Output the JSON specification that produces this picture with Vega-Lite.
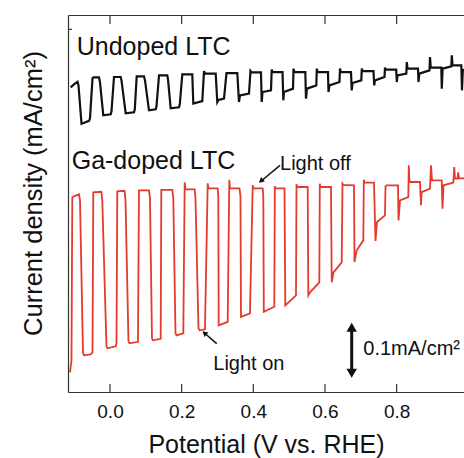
{
  "$schema": "https://vega.github.io/schema/vega-lite/v6.json",
  "width": 396,
  "height": 377,
  "autosize": {"type": "none"},
  "padding": {"left": 68, "top": 15, "right": 0, "bottom": 66},
  "config": {
    "view": {"stroke": null},
    "font": "Liberation Sans",
    "axis": {"grid": false, "domainColor": "#333", "domainWidth": 1.2, "ticks": false, "labelColor": "#111", "titleColor": "#111", "titleFontWeight": "normal", "labelFont": "Liberation Sans", "titleFont": "Liberation Sans"}
  },
  "datasets": {
    "undoped": [
      {"V":-0.1097,"J":0.5374},{"V":-0.1005,"J":0.5427},{"V":-0.0907,"J":0.5471},{"V":-0.0879,"J":0.5409},{"V":-0.0795,"J":0.4730},{"V":-0.0754,"J":0.4739},{"V":-0.0586,"J":0.4783},{"V":-0.0558,"J":0.4827},{"V":-0.0488,"J":0.5533},{"V":-0.0461,"J":0.5550},{"V":-0.0307,"J":0.5550},{"V":-0.0279,"J":0.5462},{"V":-0.0187,"J":0.4880},{"V":0.0020,"J":0.4898},{"V":0.0042,"J":0.4951},{"V":0.0112,"J":0.5556},{"V":0.0299,"J":0.5556},{"V":0.0321,"J":0.5497},{"V":0.0438,"J":0.4915},{"V":0.0670,"J":0.4933},{"V":0.0692,"J":0.4986},{"V":0.0745,"J":0.5568},{"V":0.0949,"J":0.5568},{"V":0.0977,"J":0.5497},{"V":0.1088,"J":0.4968},{"V":0.1275,"J":0.4986},{"V":0.1298,"J":0.5039},{"V":0.1368,"J":0.5586},{"V":0.1599,"J":0.5586},{"V":0.1619,"J":0.5515},{"V":0.1694,"J":0.5004},{"V":0.1926,"J":0.5021},{"V":0.1948,"J":0.5074},{"V":0.2018,"J":0.5603},{"V":0.2297,"J":0.5603},{"V":0.2325,"J":0.5086},{"V":0.2576,"J":0.5132},{"V":0.2624,"J":0.5661},{"V":0.2651,"J":0.5616},{"V":0.2950,"J":0.5616},{"V":0.2995,"J":0.5115},{"V":0.3028,"J":0.5153},{"V":0.3182,"J":0.5175},{"V":0.3251,"J":0.5626},{"V":0.3553,"J":0.5626},{"V":0.3600,"J":0.5115},{"V":0.3628,"J":0.5233},{"V":0.3879,"J":0.5263},{"V":0.3921,"J":0.5661},{"V":0.3949,"J":0.5638},{"V":0.4214,"J":0.5638},{"V":0.4234,"J":0.5115},{"V":0.4256,"J":0.5291},{"V":0.4494,"J":0.5321},{"V":0.4513,"J":0.5686},{"V":0.4535,"J":0.5644},{"V":0.4815,"J":0.5644},{"V":0.4837,"J":0.5145},{"V":0.4856,"J":0.5291},{"V":0.5108,"J":0.5351},{"V":0.5122,"J":0.5704},{"V":0.5144,"J":0.5644},{"V":0.5451,"J":0.5644},{"V":0.5470,"J":0.5175},{"V":0.5498,"J":0.5351},{"V":0.5758,"J":0.5409},{"V":0.5772,"J":0.5704},{"V":0.5791,"J":0.5644},{"V":0.6084,"J":0.5644},{"V":0.6098,"J":0.5291},{"V":0.6126,"J":0.5409},{"V":0.6405,"J":0.5467},{"V":0.6419,"J":0.5704},{"V":0.6442,"J":0.5644},{"V":0.6726,"J":0.5644},{"V":0.6746,"J":0.5321},{"V":0.6768,"J":0.5450},{"V":0.7014,"J":0.5497},{"V":0.7028,"J":0.5704},{"V":0.7047,"J":0.5661},{"V":0.7354,"J":0.5661},{"V":0.7374,"J":0.5409},{"V":0.7396,"J":0.5497},{"V":0.7661,"J":0.5556},{"V":0.7675,"J":0.5721},{"V":0.7698,"J":0.5686},{"V":0.7988,"J":0.5686},{"V":0.8005,"J":0.5467},{"V":0.8024,"J":0.5586},{"V":0.8270,"J":0.5616},{"V":0.8284,"J":0.5820},{"V":0.8303,"J":0.5704},{"V":0.8596,"J":0.5704},{"V":0.8610,"J":0.5467},{"V":0.8633,"J":0.5616},{"V":0.8917,"J":0.5674},{"V":0.8931,"J":0.5908},{"V":0.8953,"J":0.5721},{"V":0.9247,"J":0.5721},{"V":0.9260,"J":0.5351},{"V":0.9283,"J":0.5704},{"V":0.9526,"J":0.5744},{"V":0.9540,"J":0.5938},{"V":0.9559,"J":0.5762},{"V":0.9805,"J":0.5762},{"V":0.9824,"J":0.5321},{"V":0.9847,"J":0.5674},{"V":0.9880,"J":0.5691}
    ],
    "gadoped": [
      {"V":-0.1116,"J":0.0347},{"V":-0.1075,"J":0.0559},{"V":-0.1052,"J":0.3434},{"V":-0.1005,"J":0.3451},{"V":-0.0865,"J":0.3487},{"V":-0.0837,"J":0.3381},{"V":-0.0754,"J":0.0700},{"V":-0.0726,"J":0.0647},{"V":-0.0539,"J":0.0665},{"V":-0.0488,"J":0.0700},{"V":-0.0466,"J":0.3522},{"V":-0.0243,"J":0.3531},{"V":-0.0215,"J":0.3381},{"V":-0.0098,"J":0.0806},{"V":-0.0070,"J":0.0771},{"V":0.0159,"J":0.0806},{"V":0.0181,"J":0.0859},{"V":0.0204,"J":0.3540},{"V":0.0405,"J":0.3549},{"V":0.0433,"J":0.3381},{"V":0.0516,"J":0.0894},{"V":0.0544,"J":0.0859},{"V":0.0781,"J":0.0885},{"V":0.0809,"J":0.3557},{"V":0.1088,"J":0.3557},{"V":0.1116,"J":0.3416},{"V":0.1172,"J":0.0947},{"V":0.1200,"J":0.0912},{"V":0.1415,"J":0.0938},{"V":0.1432,"J":0.3566},{"V":0.1739,"J":0.3566},{"V":0.1767,"J":0.3416},{"V":0.1828,"J":0.1035},{"V":0.1856,"J":0.1000},{"V":0.2046,"J":0.1035},{"V":0.2085,"J":0.3698},{"V":0.2107,"J":0.3575},{"V":0.2364,"J":0.3575},{"V":0.2386,"J":0.3416},{"V":0.2470,"J":0.1123},{"V":0.2498,"J":0.1088},{"V":0.2651,"J":0.1106},{"V":0.2727,"J":0.3681},{"V":0.2749,"J":0.3593},{"V":0.3006,"J":0.3593},{"V":0.3023,"J":0.3451},{"V":0.3034,"J":0.1176},{"V":0.3285,"J":0.1238},{"V":0.3330,"J":0.3743},{"V":0.3349,"J":0.3593},{"V":0.3614,"J":0.3593},{"V":0.3642,"J":0.3451},{"V":0.3656,"J":0.1326},{"V":0.3907,"J":0.1388},{"V":0.3983,"J":0.3646},{"V":0.4005,"J":0.3593},{"V":0.4262,"J":0.3593},{"V":0.4279,"J":0.3451},{"V":0.4293,"J":0.1414},{"V":0.4586,"J":0.1503},{"V":0.4600,"J":0.3628},{"V":0.4619,"J":0.3593},{"V":0.4870,"J":0.3593},{"V":0.4893,"J":0.1529},{"V":0.5191,"J":0.1705},{"V":0.5205,"J":0.3663},{"V":0.5227,"J":0.3619},{"V":0.5518,"J":0.3616},{"V":0.5535,"J":0.1705},{"V":0.5582,"J":0.1758},{"V":0.5842,"J":0.1935},{"V":0.5855,"J":0.3675},{"V":0.5875,"J":0.3619},{"V":0.6168,"J":0.3616},{"V":0.6188,"J":0.1935},{"V":0.6238,"J":0.2111},{"V":0.6467,"J":0.2287},{"V":0.6489,"J":0.3675},{"V":0.6511,"J":0.3654},{"V":0.6810,"J":0.3646},{"V":0.6824,"J":0.2293},{"V":0.6885,"J":0.2499},{"V":0.7070,"J":0.2675},{"V":0.7084,"J":0.3746},{"V":0.7103,"J":0.3693},{"V":0.7368,"J":0.3693},{"V":0.7410,"J":0.2663},{"V":0.7452,"J":0.2998},{"V":0.7675,"J":0.3116},{"V":0.7689,"J":0.3628},{"V":0.7717,"J":0.3646},{"V":0.8038,"J":0.3646},{"V":0.8052,"J":0.3028},{"V":0.8094,"J":0.3381},{"V":0.8326,"J":0.3439},{"V":0.8339,"J":0.3998},{"V":0.8359,"J":0.3704},{"V":0.8652,"J":0.3704},{"V":0.8680,"J":0.3293},{"V":0.8700,"J":0.3527},{"V":0.8931,"J":0.3587},{"V":0.8959,"J":0.3998},{"V":0.8987,"J":0.3734},{"V":0.9258,"J":0.3734},{"V":0.9280,"J":0.3235},{"V":0.9308,"J":0.3646},{"V":0.9582,"J":0.3693},{"V":0.9607,"J":0.3968},{"V":0.9629,"J":0.3764},{"V":0.9699,"J":0.3764},{"V":0.9718,"J":0.3875},{"V":0.9741,"J":0.3769},{"V":0.9880,"J":0.3769}
    ]
  },
  "layer": [
    {
      "data": {"name": "undoped"},
      "mark": {"type": "line", "color": "#111111", "strokeWidth": 2.2, "clip": true},
      "encoding": {
        "x": {"field": "V", "type": "quantitative", "scale": {"domain": [-0.1172, 0.988], "nice": false, "zero": false},
          "axis": {"orient": "bottom", "values": [0, 0.2, 0.4, 0.6, 0.8], "format": ".1f", "labelPadding": 10, "labelFontSize": 19, "labelBaseline": "top", "title": "Potential (V vs. RHE)", "titleFontSize": 25, "titleY": 60, "titleBaseline": "alphabetic"}},
        "y": {"field": "J", "type": "quantitative", "scale": {"domain": [0, 0.665], "nice": false, "zero": false},
          "axis": {"orient": "left", "labels": false, "title": "Current density (mA/cm²)", "titleFontSize": 25.5, "titleX": -27, "titleY": 178, "titleBaseline": "alphabetic", "titleAngle": -90}}
      }
    },
    {
      "data": {"name": "gadoped"},
      "mark": {"type": "line", "color": "#e53a2e", "strokeWidth": 1.8, "clip": true},
      "encoding": {
        "x": {"field": "V", "type": "quantitative",
          "axis": {"orient": "top", "labels": false, "title": null}},
        "y": {"field": "J", "type": "quantitative"}
      }
    },
    {
      "data": {"values": [
        {"V": 0.0, "J": 0.0, "V2": 0.0, "J2": 0.0141},
        {"V": 0.2, "J": 0.0, "V2": 0.2, "J2": 0.0141},
        {"V": 0.4, "J": 0.0, "V2": 0.4, "J2": 0.0141},
        {"V": 0.6, "J": 0.0, "V2": 0.6, "J2": 0.0141},
        {"V": 0.8, "J": 0.0, "V2": 0.8, "J2": 0.0141},
        {"V": 0.0, "J": 0.665, "V2": 0.0, "J2": 0.6491},
        {"V": 0.2, "J": 0.665, "V2": 0.2, "J2": 0.6491},
        {"V": 0.4, "J": 0.665, "V2": 0.4, "J2": 0.6491},
        {"V": 0.6, "J": 0.665, "V2": 0.6, "J2": 0.6491},
        {"V": 0.8, "J": 0.665, "V2": 0.8, "J2": 0.6491},
        {"V": -0.1172, "J": 0.6397, "V2": -0.1060, "J2": 0.6397}
      ]},
      "mark": {"type": "rule", "color": "#333", "strokeWidth": 1.2},
      "encoding": {
        "x": {"field": "V", "type": "quantitative", "axis": null}, "y": {"field": "J", "type": "quantitative"},
        "x2": {"field": "V2"}, "y2": {"field": "J2"}
      }
    },
    {
      "data": {"values": [
        {"V": -0.0929, "J": 0.5938, "label": "Undoped LTC"},
        {"V": -0.1069, "J": 0.3940, "label": "Ga-doped LTC"}
      ]},
      "mark": {"type": "text", "align": "left", "baseline": "alphabetic", "fontSize": 25, "color": "#111"},
      "encoding": {"x": {"field": "V", "type": "quantitative", "axis": null}, "y": {"field": "J", "type": "quantitative"}, "text": {"field": "label"}}
    },
    {
      "data": {"values": [
        {"V": 0.4745, "J": 0.3910, "label": "Light off"},
        {"V": 0.2883, "J": 0.0380, "label": "Light on"},
        {"V": 0.7070, "J": 0.0647, "label": "0.1mA/cm²"}
      ]},
      "mark": {"type": "text", "align": "left", "baseline": "alphabetic", "fontSize": 20, "color": "#111"},
      "encoding": {"x": {"field": "V", "type": "quantitative", "axis": null}, "y": {"field": "J", "type": "quantitative"}, "text": {"field": "label"}}
    },
    {
      "data": {"values": [
        {"V": 0.6746, "J": 0.0330, "V2": 0.6746, "J2": 0.1141},
        {"V": 0.4745, "J": 0.3998, "V2": 0.4187, "J2": 0.3704},
        {"V": 0.2978, "J": 0.0854, "V2": 0.2604, "J2": 0.1058}
      ]},
      "mark": {"type": "rule", "color": "#111"},
      "encoding": {
        "x": {"field": "V", "type": "quantitative", "axis": null}, "y": {"field": "J", "type": "quantitative"},
        "x2": {"field": "V2"}, "y2": {"field": "J2"},
        "strokeWidth": {"condition": {"test": "datum.V === datum.V2", "value": 3}, "value": 1.5}
      }
    },
    {
      "data": {"values": [
        {"V": 0.6746, "J": 0.1141, "angle": 0, "kind": "big"},
        {"V": 0.6746, "J": 0.0330, "angle": 180, "kind": "big"},
        {"V": 0.4214, "J": 0.3722, "angle": 230, "kind": "small"},
        {"V": 0.2637, "J": 0.1041, "angle": 311, "kind": "small"}
      ]},
      "mark": {"type": "point", "shape": "triangle-up", "filled": true, "color": "#111", "opacity": 1},
      "encoding": {
        "x": {"field": "V", "type": "quantitative", "axis": null}, "y": {"field": "J", "type": "quantitative"},
        "angle": {"field": "angle", "type": "quantitative", "scale": null},
        "size": {"field": "kind", "type": "nominal", "scale": {"domain": ["big", "small"], "range": [110, 35]}, "legend": null}
      }
    }
  ]
}
